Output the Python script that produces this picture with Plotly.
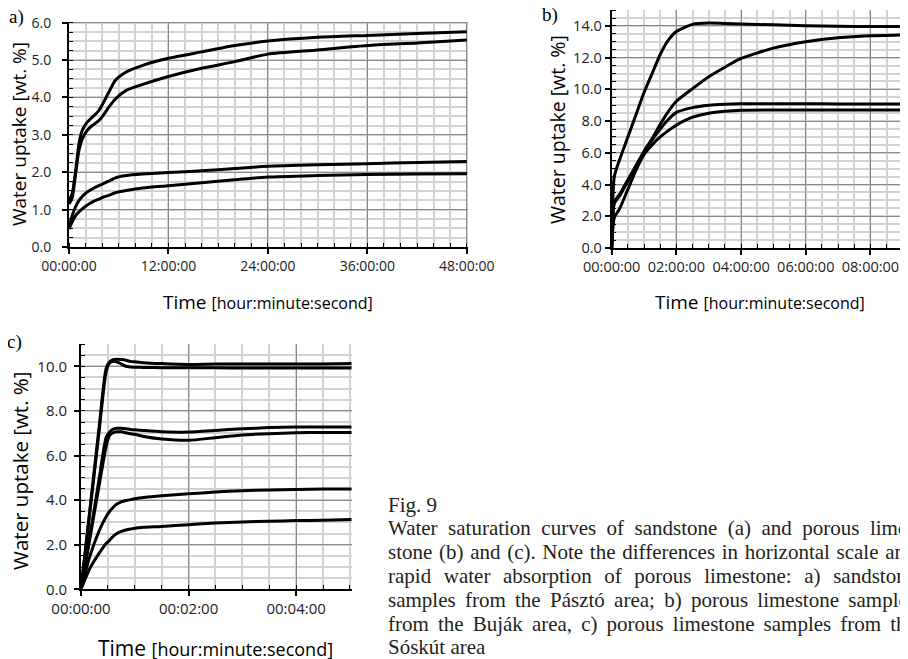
import plotly.graph_objects as go

W, H = 908, 659
OFF = 8  # the page body margin shifts the figure by 8px

# a) sandstone samples, Pásztó area (time in hours)
time_a = [0, 0.4, 0.8, 1.2, 1.6, 2.2, 2.8, 3.6, 4.2, 4.8, 5.6, 6.9, 8.9, 12, 16, 20, 24, 30, 36, 42, 48]
sand_1 = [1.24, 1.44, 2.04, 2.76, 3.12, 3.34, 3.47, 3.65, 3.88, 4.14, 4.46, 4.68, 4.86, 5.05, 5.22, 5.39, 5.51, 5.61, 5.66, 5.71, 5.76]
sand_2 = [1.15, 1.33, 1.96, 2.58, 2.89, 3.12, 3.25, 3.38, 3.54, 3.74, 3.96, 4.19, 4.35, 4.56, 4.78, 4.96, 5.16, 5.27, 5.39, 5.46, 5.54]
sand_3 = [0.53, 0.85, 1.08, 1.24, 1.35, 1.47, 1.55, 1.64, 1.70, 1.76, 1.85, 1.91, 1.95, 1.99, 2.04, 2.10, 2.16, 2.20, 2.23, 2.26, 2.29]
sand_4 = [0.48, 0.68, 0.84, 0.94, 1.02, 1.12, 1.20, 1.28, 1.34, 1.38, 1.45, 1.51, 1.58, 1.64, 1.72, 1.80, 1.87, 1.91, 1.94, 1.95, 1.96]

# b) porous limestone, Buják area (time in hours)
time_b = [0, 0.08, 0.25, 0.5, 0.75, 1.0, 1.25, 1.5, 1.75, 2.0, 2.5, 3.0, 3.5, 4.0, 5.0, 6.0, 7.0, 8.0, 9.2]
bujak_1 = [0, 4.5, 5.6, 7.0, 8.4, 9.8, 11.0, 12.2, 13.1, 13.65, 14.1, 14.18, 14.16, 14.12, 14.07, 14.02, 13.98, 13.96, 13.96]
bujak_2 = [0, 2.9, 3.4, 4.3, 5.2, 6.1, 6.9, 7.8, 8.6, 9.25, 10.05, 10.8, 11.4, 11.95, 12.6, 13.0, 13.25, 13.38, 13.45]
bujak_3 = [0, 2.8, 3.3, 4.2, 5.1, 6.0, 6.8, 7.5, 8.1, 8.55, 8.85, 9.0, 9.07, 9.1, 9.1, 9.1, 9.08, 9.08, 9.08]
bujak_4 = [0, 1.9, 2.5, 3.7, 4.9, 5.9, 6.5, 7.0, 7.4, 7.75, 8.25, 8.5, 8.62, 8.68, 8.7, 8.7, 8.7, 8.7, 8.7]

# c) porous limestone, Sóskút area (time in seconds)
time_c = [0, 10, 20, 28, 32, 36, 40, 45, 50, 55, 60, 70, 90, 120, 150, 180, 210, 240, 270, 302]
sosk_1 = [0, 3.6, 7.2, 9.9, 10.2, 10.3, 10.32, 10.3, 10.27, 10.22, 10.2, 10.16, 10.12, 10.08, 10.1, 10.1, 10.1, 10.1, 10.1, 10.12]
sosk_2 = [0, 3.5, 7.0, 9.75, 10.15, 10.22, 10.2, 10.1, 10.0, 9.97, 9.96, 9.95, 9.94, 9.93, 9.93, 9.92, 9.92, 9.92, 9.92, 9.92]
sosk_3 = [0, 2.4, 4.9, 6.8, 7.05, 7.18, 7.22, 7.22, 7.2, 7.17, 7.15, 7.12, 7.07, 7.05, 7.12, 7.2, 7.25, 7.28, 7.28, 7.28]
sosk_4 = [0, 2.3, 4.6, 6.4, 6.9, 7.02, 7.06, 7.06, 7.02, 6.98, 6.95, 6.85, 6.74, 6.68, 6.8, 6.92, 6.98, 7.02, 7.03, 7.03]
sosk_5 = [0, 1.5, 2.6, 3.25, 3.5, 3.68, 3.82, 3.92, 3.98, 4.02, 4.06, 4.12, 4.2, 4.28, 4.36, 4.42, 4.45, 4.48, 4.5, 4.5]
sosk_6 = [0, 0.95, 1.6, 2.05, 2.2, 2.38, 2.5, 2.6, 2.66, 2.7, 2.74, 2.78, 2.82, 2.9, 2.97, 3.02, 3.05, 3.08, 3.1, 3.13]

ticks_a = [0, 12, 24, 36, 48]
labels_a = ["00:00:00", "12:00:00", "24:00:00", "36:00:00", "48:00:00"]
ticks_b = [0, 2, 4, 6, 8]
labels_b = ["00:00:00", "02:00:00", "04:00:00", "06:00:00", "08:00:00"]
ticks_c = [0, 120, 240]
labels_c = ["00:00:00", "00:02:00", "00:04:00"]

caption = [
    "Fig. 9",
    "Water saturation curves of sandstone (a) and porous lime-",
    "stone (b) and (c). Note the differences in horizontal scale and",
    "rapid water absorption of porous limestone: a) sandstone",
    "samples from the Pásztó area; b) porous limestone samples",
    "from the Buják area, c) porous limestone samples from the",
    "Sóskút area",
]

SANS = "Open Sans"
SERIF = "Liberation Serif"


def px_x(p):
    return (p - OFF) / W


def px_y(p):
    return 1 - (p - OFF) / H


fig = go.Figure()

panels = [
    ("x", "y", time_a, [sand_1, sand_2, sand_3, sand_4]),
    ("x2", "y2", time_b, [bujak_1, bujak_2, bujak_3, bujak_4]),
    ("x3", "y3", time_c, [sosk_1, sosk_2, sosk_3, sosk_4, sosk_5, sosk_6]),
]
for xa, ya, t, curves in panels:
    for vals in curves:
        fig.add_trace(go.Scatter(
            x=t, y=vals, xaxis=xa, yaxis=ya, mode="lines",
            line=dict(color="black", width=3, shape="spline", smoothing=0.6),
            hoverinfo="skip", showlegend=False,
        ))


def axis(domain, rng, anchor, minor_dtick, font_size, **kw):
    d = dict(
        domain=domain, range=rng, anchor=anchor,
        showline=True, linecolor="black", linewidth=2,
        ticks="outside", ticklen=5, tickwidth=1.5, tickcolor="black",
        showgrid=True, gridcolor="#8a8a8a", gridwidth=1.3, zeroline=False,
        tickfont=dict(family=SANS, size=font_size, color="#222"),
        minor=dict(tick0=0, dtick=minor_dtick, ticks="inside", ticklen=4,
                   tickwidth=1.2, tickcolor="black", showgrid=True,
                   gridcolor="#d2d2d2", gridwidth=1.8),
        fixedrange=True,
    )
    d.update(kw)
    return d


fig.update_layout(
    width=W, height=H,
    margin=dict(l=0, r=0, t=0, b=0, autoexpand=False),
    paper_bgcolor="white", plot_bgcolor="white",
    showlegend=False,
    # panel a
    xaxis=axis([px_x(69), px_x(468)], [0, 48.15], "y", 2, 14,
               tickmode="array", tickvals=ticks_a, ticktext=labels_a),
    yaxis=axis([px_y(247), px_y(21.6)], [0, 6.03], "x", 0.25, 14,
               dtick=1, tickformat=".1f", ticklabelstandoff=8),
    # panel b
    xaxis2=axis([px_x(611.7), px_x(908)], [0, 9.16], "y2", 0.5, 14.5,
                tickmode="array", tickvals=ticks_b, ticktext=labels_b),
    yaxis2=axis([px_y(248), px_y(10.1)], [0, 15], "x2", 0.5, 14.5,
                dtick=2, tickformat=".1f"),
    # panel c
    xaxis3=axis([px_x(81), px_x(351.7)], [0, 302], "y3", 30, 15,
                tickmode="array", tickvals=ticks_c, ticktext=labels_c),
    yaxis3=axis([px_y(589.3), px_y(344)], [0, 11], "x3", 0.5, 15,
                dtick=2, tickformat=".1f", ticklabelstandoff=4),
)

ann = []


def label(text, cx, cy, font, **kw):
    d = dict(text=text, x=px_x(cx), y=px_y(cy), xref="paper", yref="paper",
             xanchor="center", yanchor="middle", showarrow=False, font=font)
    d.update(kw)
    ann.append(d)


# panel letters
for txt, cx, cy in [("a)", 16, 17), ("b)", 550, 15.5), ("c)", 14.5, 342)]:
    label(txt, cx, cy, dict(family=SERIF, size=19, color="black"))

# axis titles
for cx, cy, size in [(19, 134, 19), (557, 130, 19.5), (20, 471, 20.5)]:
    label("Water uptake [wt. %]", cx, cy, dict(family=SANS, size=size, color="black"),
          textangle=-90)
for cx, cy, big, small in [(268, 302, 19, 16), (760, 302, 19, 16), (215, 648, 21, 18)]:
    label("Time <span style='font-size:%dpx'>[hour:minute:second]</span>" % small,
          cx, cy, dict(family=SANS, size=big, color="black"))

# caption, justified by widening word spacing
TIMES = dict(zip("abcdefghijklmnopqrstuvwxyz",
                 [444, 500, 444, 500, 444, 333, 500, 500, 278, 278, 500, 278, 778,
                  500, 500, 500, 500, 333, 389, 278, 500, 500, 722, 500, 500, 444]))
TIMES.update({" ": 250, "(": 333, ")": 333, ".": 250, ",": 250, ";": 278, ":": 278,
              "-": 333, "á": 444, "ó": 500, "ú": 500, "W": 944, "N": 722, "P": 556,
              "B": 667, "S": 556, "F": 556, "9": 500})
cap_size = 21
cap_left = 386
cap_width = 528
cap_y = [505, 528, 552, 576, 600, 624, 647]
for i, line in enumerate(caption):
    text = line
    if 1 <= i <= 5:
        natural = sum(TIMES.get(c, 500) for c in line) * cap_size / 1000
        ws = max(0, (cap_width - natural) / line.count(" "))
        text = "<span style='word-spacing:%.2fpx'>%s</span>" % (ws, line)
    label(text, cap_left, cap_y[i], dict(family=SERIF, size=cap_size, color="#231f20"),
          xanchor="left")

fig.update_layout(annotations=ann)

fig.write_html("out.html")
